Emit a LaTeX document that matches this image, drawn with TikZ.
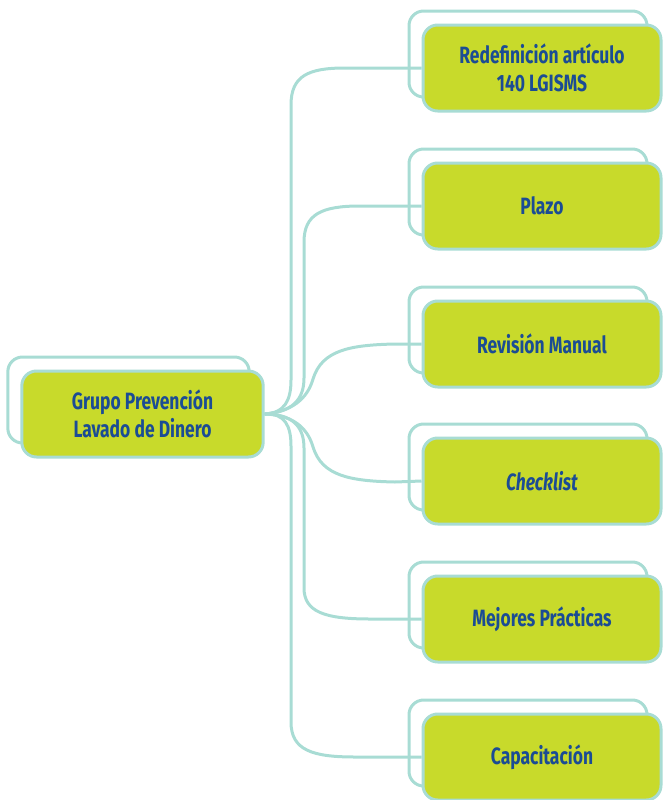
\documentclass[tikz,border=0pt]{standalone}
\usepackage{fontspec}
\setmainfont{Fira Sans}[FakeStretch=0.74]
\usetikzlibrary{shadows}

\definecolor{ldgreen}{HTML}{C8DA2B}
\definecolor{ldteal}{HTML}{A8DCD4}
\definecolor{ldblue}{HTML}{1B4C94}

\tikzset{
  ldbox/.style={draw=ldteal, line width=2.25pt, fill=ldgreen, rounded corners=11pt,
    copy shadow={shadow xshift=-10.5pt, shadow yshift=10.5pt, fill=white, draw=ldteal, line width=2.25pt},
    minimum width=178.5pt, minimum height=64.5pt, align=center, text=ldblue,
    font=\fontsize{17.7}{21}\selectfont\bfseries},
  ldline/.style={draw=ldteal, line width=2.25pt}
}

\begin{document}
\begin{tikzpicture}[x=0.75pt,y=-0.75pt]

	\useasboundingbox (0,0) rectangle (662,800);

	% raiz
	\node[ldbox, minimum width=181pt] (grupo) at (142.5,414) {Grupo Prevención\\Lavado de Dinero};

	% ramas
	\node[ldbox] (redef) at (542,68) {Redefinición artículo\\140 LGISMS};
	\node[ldbox] (plazo) at (542,206) {Plazo};
	\node[ldbox] (revision) at (542,344) {Revisión Manual};
	\node[ldbox] (check) at (542,481) {\itshape Checklist};
	\node[ldbox] (mejores) at (542,619) {Mejores Prácticas};
	\node[ldbox] (capa) at (542,757) {Capacitación};

	% conectores
	\draw[ldline] (grupo.east) .. controls (285,413) and (291,400) .. (291,380) -- (291,105)
		.. controls (291,76) and (308,68) .. (345,68) -- (redef.west);
	\draw[ldline] (grupo.east) .. controls (292,412) and (304,400) .. (304,378) -- (304,242)
		.. controls (304,214) and (322,206) .. (360,206) -- (plazo.west);
	\draw[ldline] (grupo.east) .. controls (298,411) and (309,393) .. (313,379)
		.. controls (322,350) and (350,345) .. (395,344) -- (revision.west);
	\draw[ldline] (grupo.east) .. controls (298,415) and (309,433) .. (313,447)
		.. controls (322,476) and (350,481) .. (395,482) -- (check.west);
	\draw[ldline] (grupo.east) .. controls (292,414) and (304,426) .. (304,448) -- (304,588)
		.. controls (304,612) and (325,619) .. (370,619) -- (mejores.west);
	\draw[ldline] (grupo.east) .. controls (285,413) and (291,426) .. (291,446) -- (291,722)
		.. controls (291,750) and (312,757) .. (355,757) -- (capa.west);

\end{tikzpicture}
\end{document}
